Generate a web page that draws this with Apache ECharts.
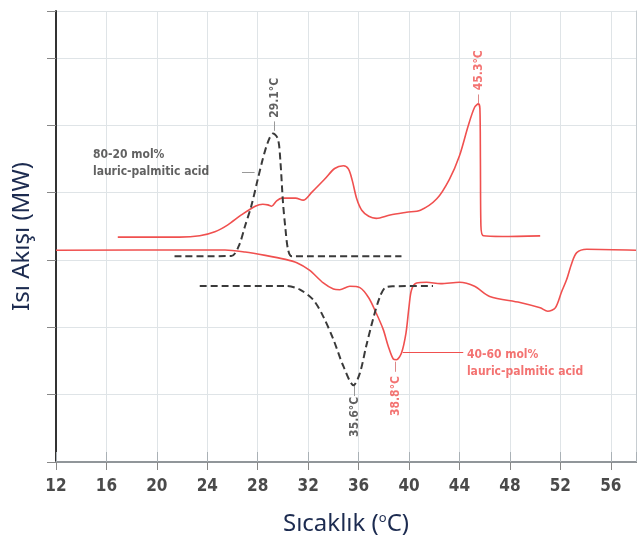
<!DOCTYPE html>
<html>
<head>
<meta charset="utf-8">
<script src="https://cdn.jsdelivr.net/npm/echarts@6/dist/echarts.min.js"></script>
<style>
  html, body { margin: 0; padding: 0; background: #fff; }
  #main { width: 637px; height: 549px; }
</style>
</head>
<body>
<div id="main"></div>
<script>
// sıcaklık (°C) ve ısı akışı (keyfi birim, ızgara aralığı = 1)
const redHeatT = [16.9, 21.8, 23.4, 24.6, 25.6, 26.7, 27.8, 28.4, 28.8, 29.1, 29.5, 29.9, 31.0, 31.6, 32.3, 33.3, 34.1, 34.8, 35.2, 35.5, 35.85, 36.25, 36.8, 37.4, 38.5, 39.8, 40.9, 42.2, 43.2, 44.0, 44.7, 45.2, 45.5, 45.62, 45.66, 45.7, 45.9, 47.4, 50.4];
const redHeatQ = [3.34, 3.34, 3.36, 3.42, 3.52, 3.67, 3.80, 3.83, 3.82, 3.80, 3.88, 3.92, 3.92, 3.89, 4.01, 4.20, 4.36, 4.40, 4.35, 4.18, 3.91, 3.74, 3.65, 3.62, 3.67, 3.71, 3.74, 3.91, 4.20, 4.55, 5.00, 5.27, 5.32, 5.25, 4.50, 3.51, 3.36, 3.35, 3.36];

const redCoolT = [12.0, 23.4, 25.4, 27.0, 28.6, 30.2, 31.1, 32.1, 33.2, 34.0, 34.5, 35.3, 36.1, 36.8, 37.4, 37.95, 38.35, 38.75, 39.0, 39.4, 39.76, 40.0, 40.2, 40.6, 41.4, 42.5, 44.0, 45.2, 46.4, 48.8, 50.4, 51.0, 51.6, 52.1, 52.5, 52.9, 53.3, 54.1, 58.0];
const redCoolQ = [3.145, 3.15, 3.15, 3.12, 3.07, 3.01, 2.96, 2.85, 2.66, 2.57, 2.56, 2.61, 2.59, 2.44, 2.21, 1.97, 1.72, 1.53, 1.52, 1.62, 1.92, 2.31, 2.56, 2.66, 2.67, 2.65, 2.67, 2.61, 2.46, 2.37, 2.29, 2.24, 2.29, 2.53, 2.71, 2.95, 3.11, 3.16, 3.145];

const dashHeatT = [21.4, 25.9, 26.5, 27.0, 27.5, 28.0, 28.4, 28.8, 29.2, 29.6, 29.8, 30.0, 30.2, 30.4, 30.7, 39.4];
const dashHeatQ = [3.055, 3.06, 3.21, 3.51, 3.81, 4.20, 4.50, 4.75, 4.88, 4.80, 4.46, 3.86, 3.46, 3.16, 3.055, 3.055];

const dashCoolT = [23.4, 30.3, 31.35, 32.4, 33.2, 34.0, 34.8, 35.6, 36.1, 36.6, 37.2, 37.7, 38.1, 38.75, 41.9];
const dashCoolQ = [2.615, 2.615, 2.56, 2.41, 2.16, 1.82, 1.42, 1.14, 1.32, 1.72, 2.16, 2.46, 2.59, 2.61, 2.615];

// tepe etiketleri
const peakText = ['29.1°C', '45.3°C', '35.6°C', '38.8°C'];
const peakT = [29.37, 45.5, 35.71, 38.92];
const peakQ = [5.41, 5.82, 0.67, 0.98];

const RED = '#f0504f';
const DARK = '#3a3a3a';
const NARROW = '"Liberation Sans Narrow", "Arial Narrow", "DejaVu Sans Condensed", sans-serif';
const TITLE_FONT = '"Noto Sans", "Open Sans", sans-serif';

function zip(xs, ys){
    return xs.map((x, i) => [x, ys[i]]);
}

function leader(a, b, color){
    return [{ coord: a, lineStyle: { color: color } }, { coord: b }];
}

const chart = echarts.init(document.getElementById('main'), null, { renderer: 'canvas' });

const peakItems = peakText.map((t, i) => ({
    value: [peakT[i], peakQ[i]],
    label: { formatter: t, color: (i % 2 === 1) ? RED : DARK }
}));

const option = {
    animation: false,
    backgroundColor: '#fff',
    grid: { left: 56, right: 1, top: 11, bottom: 87 },
    xAxis: [{
        type: 'value', min: 12, max: 58, interval: 4,
        name: 'Sıcaklık ({sup|o}C)', nameLocation: 'middle', nameGap: 50,
        nameTextStyle: {
            fontFamily: TITLE_FONT, fontSize: 24, color: '#1c2b50',
            rich: { sup: { fontFamily: TITLE_FONT, fontSize: 13, color: '#1c2b50', verticalAlign: 'top', padding: [0, 0, 12, 0] } }
        },
        axisLine: { lineStyle: { color: '#444', width: 2 } },
        axisTick: { length: 8, lineStyle: { color: '#888' } },
        axisLabel: { margin: 16, fontFamily: NARROW, fontWeight: 'bold', fontSize: 17, color: '#4a4a4a', showMaxLabel: false },
        splitLine: { show: true, lineStyle: { color: '#dfe4e7', width: 1 } }
    }, {
        type: 'value', min: 12, max: 58, interval: 4, position: 'top',
        axisLine: { lineStyle: { color: '#aab1b6', width: 1.5 } },
        axisTick: { length: 10, lineStyle: { color: '#aab1b6' } },
        axisLabel: { show: false },
        splitLine: { show: false }
    }],
    yAxis: [{
        type: 'value', min: 0, max: 6.7, interval: 1,
        name: 'Isı Akışı (MW)', nameLocation: 'middle', nameGap: 22,
        nameTextStyle: { fontFamily: TITLE_FONT, fontSize: 24, color: '#1c2b50' },
        axisLine: { show: true, lineStyle: { color: '#333', width: 2 } },
        axisTick: { show: true, length: 9, lineStyle: { color: '#888' } },
        axisLabel: { show: false },
        splitLine: { show: true, lineStyle: { color: '#dfe4e7', width: 1 } }
    }, {
        type: 'value', min: 0, max: 6.7, interval: 1, position: 'right',
        axisLine: { show: true, lineStyle: { color: '#c8ced2', width: 1 } },
        axisTick: { show: false }, axisLabel: { show: false }, splitLine: { show: false }
    }],
    series: [
        {
            name: '40-60 heating', type: 'line', data: zip(redHeatT, redHeatQ),
            smooth: 0.3, showSymbol: false,
            lineStyle: { color: RED, width: 1.6 },
            markLine: {
                silent: true, symbol: 'none', label: { show: false },
                lineStyle: { type: 'solid', width: 1 },
                data: [
                    leader([45.49, 5.33], [45.49, 5.46], '#d88'),
                    leader([38.9, 1.34], [38.9, 1.49], '#d88'),
                    leader([39.5, 1.63], [44.3, 1.63], RED)
                ]
            }
        },
        {
            name: '40-60 cooling', type: 'line', data: zip(redCoolT, redCoolQ),
            smooth: 0.3, showSymbol: false,
            lineStyle: { color: RED, width: 1.6 }
        },
        {
            name: '80-20 heating', type: 'line', data: zip(dashHeatT, dashHeatQ),
            smooth: 0.3, showSymbol: false,
            lineStyle: { color: DARK, width: 2, type: [7, 4] },
            markLine: {
                silent: true, symbol: 'none', label: { show: false },
                lineStyle: { type: 'solid', width: 1 },
                data: [
                    leader([29.3, 4.92], [29.3, 5.06], '#999'),
                    leader([35.65, 0.98], [35.65, 1.13], '#999'),
                    leader([26.75, 4.31], [27.75, 4.31], '#999')
                ]
            }
        },
        {
            name: '80-20 cooling', type: 'line', data: zip(dashCoolT, dashCoolQ),
            smooth: 0.3, showSymbol: false,
            lineStyle: { color: DARK, width: 2, type: [7, 4] }
        },
        {
            name: 'peaks', type: 'scatter', symbolSize: 0, silent: true,
            data: peakItems,
            label: {
                show: true, position: 'inside', rotate: 90,
                fontFamily: NARROW, fontWeight: 'bold', fontSize: 12
            }
        },
        {
            name: 'labels', type: 'scatter', symbolSize: 0, silent: true,
            data: [
                { value: [14.93, 4.44], label: { formatter: '80-20 mol%\nlauric-palmitic acid', color: DARK } },
                { value: [44.59, 1.47], label: { formatter: '40-60 mol%\nlauric-palmitic acid', color: RED } }
            ],
            label: {
                show: true, position: 'right', distance: 0, align: 'left',
                fontFamily: NARROW, fontWeight: 'bold', fontSize: 12, lineHeight: 17
            }
        }
    ]
};

chart.setOption(option);
</script>
</body>
</html>
